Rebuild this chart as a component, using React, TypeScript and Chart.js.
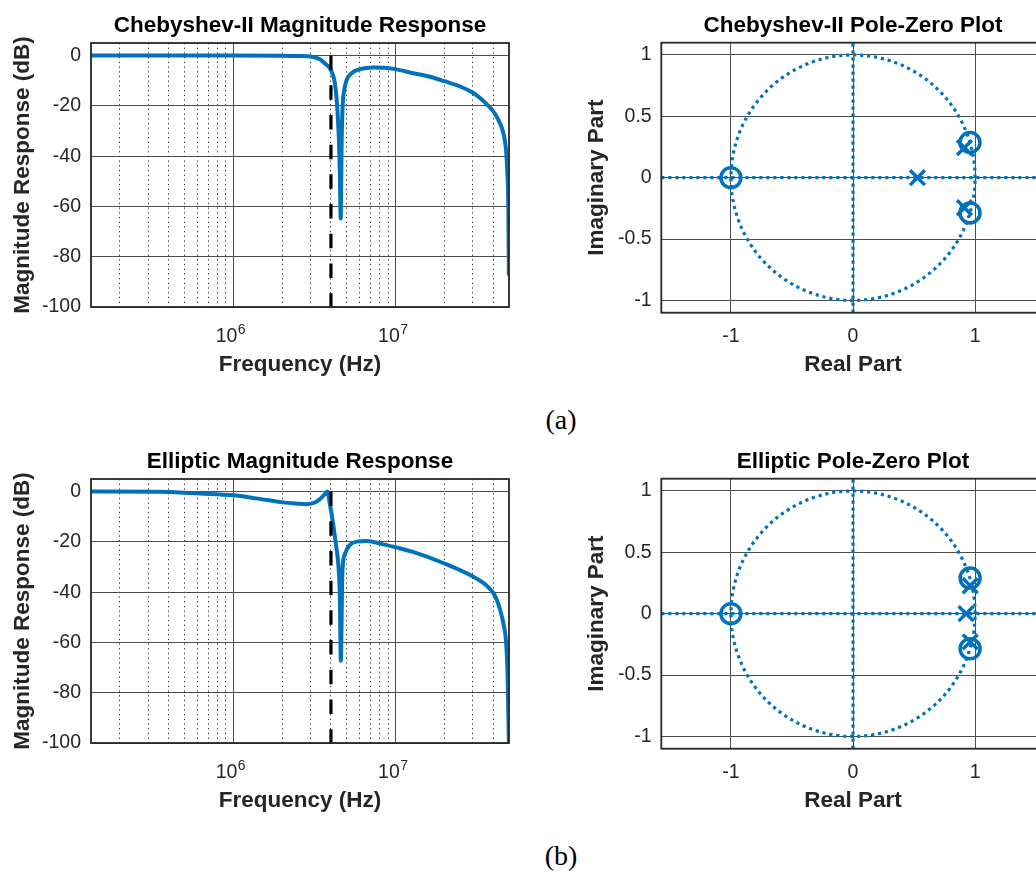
import React, { useEffect, useRef } from 'react';
import { Chart, registerables } from 'chart.js';

Chart.register(...registerables);

// ---------- shared axis values ----------
const FREQ_MIN_HZ = 1.33e5;
const FREQ_MAX_HZ = 5e7;
const FREQ_MAJOR_TICKS = [1e6, 1e7];
const FREQ_MAJOR_BASE = '10';
const FREQ_MAJOR_EXPONENTS = ['6', '7'];
const FREQ_MINOR_TICKS = [
  2e5, 3e5, 4e5, 5e5, 6e5, 7e5, 8e5, 9e5,
  2e6, 3e6, 4e6, 5e6, 6e6, 7e6, 8e6, 9e6,
  2e7, 3e7, 4e7,
];
const DB_MIN = -100;
const DB_MAX = 5;
const DB_TICKS = [-100, -80, -60, -40, -20, 0];
const CUTOFF_HZ = 4e6;

// ---------- Chebyshev-II magnitude response ----------
const CHEBY_FREQ_HZ = [
  1.33e5, 5e5, 1e6, 2e6, 2.5e6, 3.0e6, 3.42e6, 3.76e6, 3.94e6, 4.1e6, 4.23e6,
  4.37e6, 4.48e6, 4.54e6, 4.59e6, 4.66e6, 4.72e6, 4.83e6, 5.0e6, 5.36e6,
  6.03e6, 7.29e6, 8.5e6, 1.0e7, 1.28e7, 1.63e7, 2.0e7, 2.5e7, 3.0e7, 3.3e7,
  3.64e7, 4.0e7, 4.2e7, 4.39e7, 4.6e7, 4.72e7, 4.8e7, 4.88e7, 4.95e7, 4.99e7,
];
const CHEBY_DB = [
  0, 0, 0, -0.05, -0.2, -0.4, -1.5, -3.7, -5.0, -7.5, -11,
  -20.3, -33.6, -46.9, -64.8, -33.6, -20.3, -13.7, -9.7, -7.0,
  -5.4, -4.7, -4.8, -5.4, -7.0, -8.4, -10.2, -12.3, -14.8, -16.8,
  -19.3, -22.2, -24.3, -26.8, -30.5, -34, -38, -46, -60, -87.5,
];

// ---------- Elliptic magnitude response ----------
const ELLIP_FREQ_HZ = [
  1.33e5, 3.37e5, 6.24e5, 1e6, 1.39e6, 2.03e6, 2.5e6, 2.8e6, 3.1e6, 3.26e6,
  3.42e6, 3.55e6, 3.67e6, 3.8e6, 3.94e6, 4.13e6, 4.29e6, 4.44e6, 4.54e6,
  4.6e6, 4.71e6, 4.87e6, 5.23e6, 5.75e6, 6.63e6, 8.41e6, 1.02e7, 1.28e7,
  2.0e7, 3.0e7, 3.64e7, 4.0e7, 4.2e7, 4.39e7, 4.65e7, 4.8e7, 4.9e7, 4.99e7,
];
const ELLIP_DB = [
  0, -0.1, -0.8, -1.5, -2.7, -4.3, -4.8, -5.0, -4.6, -4.0,
  -3.0, -2.0, -1.0, 0, -5, -13, -21, -29, -42,
  -67.3, -31.5, -24.9, -21.2, -19.9, -19.7, -21, -22.3, -24,
  -28.6, -33.8, -37.4, -40.3, -43, -46.6, -53.4, -60, -73, -100,
];

// ---------- pole-zero axes ----------
const RE_MIN = -1.57;
const RE_MAX = 1.57;
const IM_MIN = -1.1;
const IM_MAX = 1.1;
const RE_TICKS = [-1, 0, 1];
const IM_TICKS = [-1, -0.5, 0, 0.5, 1];

// ---------- Chebyshev-II poles / zeros ----------
const CHEBY_ZERO_RE = [-1, 0.958, 0.958];
const CHEBY_ZERO_IM = [0, 0.287, -0.287];
const CHEBY_POLE_RE = [0.528, 0.913, 0.913];
const CHEBY_POLE_IM = [0, 0.245, -0.245];

// ---------- Elliptic poles / zeros ----------
const ELLIP_ZERO_RE = [-1, 0.959, 0.959];
const ELLIP_ZERO_IM = [0, 0.29, -0.286];
const ELLIP_POLE_RE = [0.926, 0.96, 0.96];
const ELLIP_POLE_IM = [0, 0.228, -0.23];

// ---------- styling ----------
const SANS = '"Liberation Sans", Arial, Helvetica, sans-serif';
const BLUE = '#0072BD';
const TEXT = '#262626';
const GRID_MAJOR = '#4d4d4d';
const GRID_MINOR = '#333333';
const BOX = '#262626';
const TITLE_FONT = { family: SANS, size: 22.5, weight: 'bold' as const, lineHeight: 1.2 };
const LABEL_FONT = { family: SANS, size: 22.5, weight: 'bold' as const, lineHeight: 1.2 };
const TICK_FONT = { family: SANS, size: 19.5, lineHeight: 1.2 };
const EXPONENT_FONT_SIZE = 14;

const pairs = (xs: number[], ys: number[]) => xs.map((x, i) => ({ x, y: ys[i] }));
const asTicks = (vals: number[]) => vals.map((value) => ({ value }));

// unit circle used as the reference in z-plane plots
const UNIT_CIRCLE_STEPS = 240;
const unitCircle = () => {
  const pts: { x: number; y: number }[] = [];
  for (let k = 0; k <= UNIT_CIRCLE_STEPS; k++) {
    const a = (2 * Math.PI * k) / UNIT_CIRCLE_STEPS;
    pts.push({ x: Math.cos(a), y: Math.sin(a) });
  }
  return pts;
};

// outlines the plotting box like a boxed axes
const boxPlugin = {
  id: 'axesBox',
  afterDraw(chart: any) {
    const { ctx, chartArea: a } = chart;
    ctx.save();
    ctx.strokeStyle = BOX;
    ctx.lineWidth = 1.8;
    ctx.strokeRect(a.left, a.top, a.right - a.left, a.bottom - a.top);
    ctx.restore();
  },
};

// raised exponent next to each "10" label of the frequency axis
const exponentPlugin = {
  id: 'freqExponents',
  afterDraw(chart: any) {
    const scale = chart.scales.x;
    const { ctx, chartArea } = chart;
    ctx.save();
    ctx.font = `${EXPONENT_FONT_SIZE}px ${SANS}`;
    ctx.fillStyle = TEXT;
    ctx.textAlign = 'left';
    ctx.textBaseline = 'alphabetic';
    FREQ_MAJOR_TICKS.forEach((v, i) => {
      const px = scale.getPixelForValue(v);
      ctx.fillText(FREQ_MAJOR_EXPONENTS[i], px + 4.6, chartArea.bottom + 26.5);
    });
    ctx.restore();
  },
};

function magnitudeConfig(title: string, freqs: number[], dbs: number[]): any {
  return {
    type: 'line',
    data: {
      datasets: [
        {
          label: 'cutoff',
          data: [
            { x: CUTOFF_HZ, y: 0 },
            { x: CUTOFF_HZ, y: DB_MIN },
          ],
          borderColor: '#000000',
          borderWidth: 3.2,
          borderDash: [14.5, 15.2],
          pointRadius: 0,
          order: 0,
        },
        {
          label: title,
          data: pairs(freqs, dbs),
          borderColor: BLUE,
          borderWidth: 4,
          pointRadius: 0,
          cubicInterpolationMode: 'monotone',
          order: 1,
        },
      ],
    },
    options: {
      responsive: false,
      animation: false,
      devicePixelRatio: 1,
      events: [],
      layout: { padding: { left: 0, right: 11, top: 0, bottom: 0 } },
      plugins: {
        legend: { display: false },
        tooltip: { enabled: false },
        title: {
          display: true,
          text: title,
          fullSize: false,
          color: '#000000',
          font: TITLE_FONT,
          padding: { top: 12, bottom: 4 },
        },
      },
      scales: {
        x: {
          type: 'logarithmic',
          position: 'bottom',
          min: FREQ_MIN_HZ,
          max: FREQ_MAX_HZ,
          afterBuildTicks: (s: any) => {
            s.ticks = asTicks(FREQ_MAJOR_TICKS);
          },
          afterFit: (s: any) => {
            s.height = 83;
          },
          ticks: {
            autoSkip: false,
            maxRotation: 0,
            color: TEXT,
            font: TICK_FONT,
            padding: 17.5,
            labelOffset: -6.6,
            callback: () => FREQ_MAJOR_BASE,
          },
          grid: { color: GRID_MAJOR, lineWidth: 1, drawTicks: false },
          border: { display: false },
          title: {
            display: true,
            text: 'Frequency (Hz)',
            color: TEXT,
            font: LABEL_FONT,
            padding: { top: 0, bottom: 12 },
          },
        },
        xMinor: {
          type: 'logarithmic',
          position: 'bottom',
          min: FREQ_MIN_HZ,
          max: FREQ_MAX_HZ,
          afterBuildTicks: (s: any) => {
            s.ticks = asTicks(FREQ_MINOR_TICKS);
          },
          afterFit: (s: any) => {
            s.height = 0;
          },
          ticks: { display: false, autoSkip: false },
          grid: { color: GRID_MINOR, lineWidth: 1, drawTicks: false },
          border: { display: false, dash: [1.3, 3.4] },
        },
        y: {
          type: 'linear',
          position: 'left',
          min: DB_MIN,
          max: DB_MAX,
          afterBuildTicks: (s: any) => {
            s.ticks = asTicks(DB_TICKS);
          },
          afterFit: (s: any) => {
            s.width = 91;
          },
          ticks: {
            autoSkip: false,
            color: TEXT,
            font: TICK_FONT,
            padding: 10,
            callback: (v: number) => String(v),
          },
          grid: { color: GRID_MAJOR, lineWidth: 1, drawTicks: false },
          border: { display: false },
          title: {
            display: true,
            text: 'Magnitude Response (dB)',
            color: TEXT,
            font: LABEL_FONT,
            padding: { top: 9.2, bottom: 0 },
          },
        },
      },
    },
    plugins: [boxPlugin, exponentPlugin],
  };
}

function poleZeroConfig(
  title: string,
  zRe: number[],
  zIm: number[],
  pRe: number[],
  pIm: number[],
): any {
  const dotted = {
    showLine: true,
    pointRadius: 0,
    borderColor: BLUE,
    borderWidth: 3.2,
    borderDash: [3.2, 3.8],
    fill: false,
    order: 2,
  };
  return {
    type: 'scatter',
    data: {
      datasets: [
        {
          label: 'zeros',
          data: pairs(zRe, zIm),
          pointStyle: 'circle',
          pointRadius: 10,
          pointBorderWidth: 3.5,
          borderColor: BLUE,
          backgroundColor: 'rgba(0,0,0,0)',
          order: 0,
        },
        {
          label: 'poles',
          data: pairs(pRe, pIm),
          pointStyle: 'crossRot',
          pointRadius: 10.5,
          pointBorderWidth: 3.5,
          borderColor: BLUE,
          backgroundColor: BLUE,
          order: 0,
        },
        { label: 'unit circle', data: unitCircle(), ...dotted },
        {
          label: 'real axis',
          data: [
            { x: RE_MIN, y: 0 },
            { x: RE_MAX, y: 0 },
          ],
          ...dotted,
        },
        {
          label: 'imaginary axis',
          data: [
            { x: 0, y: IM_MIN },
            { x: 0, y: IM_MAX },
          ],
          ...dotted,
        },
      ],
    },
    options: {
      responsive: false,
      animation: false,
      devicePixelRatio: 1,
      events: [],
      layout: { padding: { left: 0, right: 15.3, top: 0, bottom: 0 } },
      plugins: {
        legend: { display: false },
        tooltip: { enabled: false },
        title: {
          display: true,
          text: title,
          fullSize: false,
          color: '#000000',
          font: TITLE_FONT,
          padding: { top: 12, bottom: 3.7 },
        },
      },
      scales: {
        x: {
          type: 'linear',
          position: 'bottom',
          min: RE_MIN,
          max: RE_MAX,
          afterBuildTicks: (s: any) => {
            s.ticks = asTicks(RE_TICKS);
          },
          afterFit: (s: any) => {
            s.height = 77.3;
          },
          ticks: {
            autoSkip: false,
            maxRotation: 0,
            color: TEXT,
            font: TICK_FONT,
            padding: 12,
            callback: (v: number) => String(v),
          },
          grid: { color: GRID_MAJOR, lineWidth: 1, drawTicks: false },
          border: { display: false },
          title: {
            display: true,
            text: 'Real Part',
            color: TEXT,
            font: LABEL_FONT,
            padding: { top: 0, bottom: 12 },
          },
        },
        y: {
          type: 'linear',
          position: 'left',
          min: IM_MIN,
          max: IM_MAX,
          afterBuildTicks: (s: any) => {
            s.ticks = asTicks(IM_TICKS);
          },
          afterFit: (s: any) => {
            s.width = 141.3;
          },
          ticks: {
            autoSkip: false,
            color: TEXT,
            font: TICK_FONT,
            padding: 9.6,
            callback: (v: number) => String(v),
          },
          grid: { color: GRID_MAJOR, lineWidth: 1, drawTicks: false },
          border: { display: false },
          title: {
            display: true,
            text: 'Imaginary Part',
            color: TEXT,
            font: LABEL_FONT,
            padding: { top: 63.7, bottom: 0 },
          },
        },
      },
    },
    plugins: [boxPlugin],
  };
}

function ChartCanvas(props: {
  left: number;
  top: number;
  width: number;
  height: number;
  makeConfig: () => any;
}) {
  const { left, top, width, height, makeConfig } = props;
  const ref = useRef<HTMLCanvasElement>(null);
  useEffect(() => {
    if (!ref.current) return;
    const chart = new Chart(ref.current, makeConfig());
    return () => chart.destroy();
  }, []);
  return (
    <div style={{ position: 'absolute', left, top, width, height }}>
      <canvas ref={ref} width={width} height={height} style={{ display: 'block', width, height }} />
    </div>
  );
}

const ROW_TOPS = [0, 436];
const CAPTIONS = ['(a)', '(b)'];

export default function App() {
  return (
    <div
      style={{
        position: 'fixed',
        left: 0,
        top: 0,
        width: 1036,
        height: 871,
        overflow: 'hidden',
        background: '#ffffff',
      }}
    >
      <ChartCanvas
        left={0}
        top={ROW_TOPS[0]}
        width={520}
        height={390}
        makeConfig={() => magnitudeConfig('Chebyshev-II Magnitude Response', CHEBY_FREQ_HZ, CHEBY_DB)}
      />
      <ChartCanvas
        left={520}
        top={ROW_TOPS[0]}
        width={540}
        height={390}
        makeConfig={() =>
          poleZeroConfig('Chebyshev-II Pole-Zero Plot', CHEBY_ZERO_RE, CHEBY_ZERO_IM, CHEBY_POLE_RE, CHEBY_POLE_IM)
        }
      />
      <ChartCanvas
        left={0}
        top={ROW_TOPS[1]}
        width={520}
        height={390}
        makeConfig={() => magnitudeConfig('Elliptic Magnitude Response', ELLIP_FREQ_HZ, ELLIP_DB)}
      />
      <ChartCanvas
        left={520}
        top={ROW_TOPS[1]}
        width={540}
        height={390}
        makeConfig={() =>
          poleZeroConfig('Elliptic Pole-Zero Plot', ELLIP_ZERO_RE, ELLIP_ZERO_IM, ELLIP_POLE_RE, ELLIP_POLE_IM)
        }
      />
      {CAPTIONS.map((c, i) => (
        <div
          key={c}
          style={{
            position: 'absolute',
            left: 511,
            top: ROW_TOPS[i] + 406,
            width: 100,
            textAlign: 'center',
            fontFamily: '"Liberation Serif", "Times New Roman", serif',
            fontSize: 28,
            lineHeight: '28px',
            color: '#000000',
          }}
        >
          {c}
        </div>
      ))}
    </div>
  );
}
